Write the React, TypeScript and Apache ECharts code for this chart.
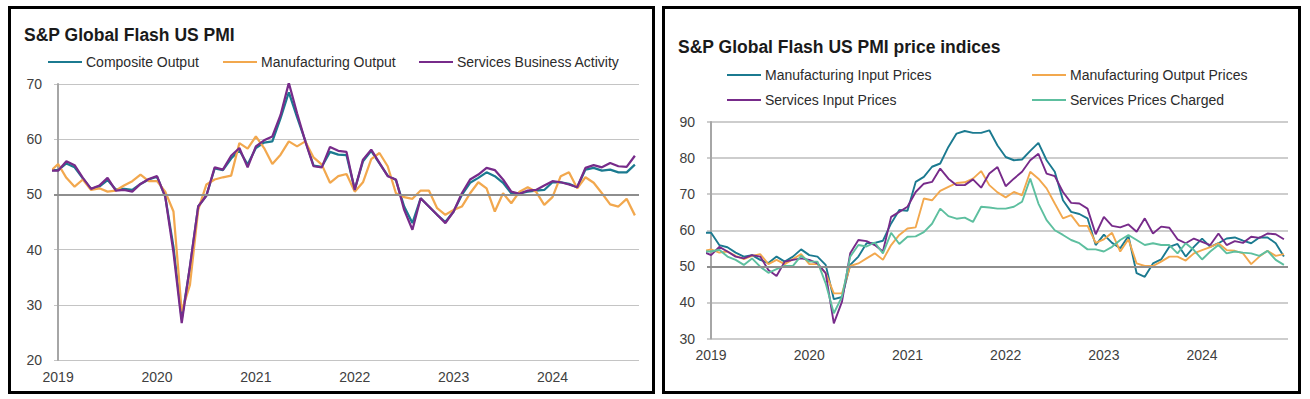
import React, { useEffect, useRef } from "react";
import * as echarts from "echarts";

// Months Dec 2018 (clipped at the axis) .. Nov 2024
const months: string[] = [];
for (let y = 2018; y <= 2024; y++) {
  for (let m = 1; m <= 12; m++) {
    if ((y === 2018 && m < 12) || (y === 2024 && m > 11)) continue;
    months.push(`${y}-${String(m).padStart(2, "0")}`);
  }
}
const yearLabels = ["2019", "2020", "2021", "2022", "2023", "2024"];

// Left panel: S&P Global Flash US PMI
const compositeOutput = [
  54.4,
  54.4, 55.6, 54.9, 52.9, 51.0, 51.4, 52.6, 50.9, 51.0, 50.8, 51.9, 52.7,
  53.2, 49.6, 40.5, 27.4, 36.8, 47.8, 49.8, 54.7, 54.4, 56.5, 58.0, 55.4,
  58.4, 59.4, 59.6, 63.8, 68.5, 64.0, 59.7, 55.2, 55.0, 57.7, 57.2, 57.1,
  50.9, 56.0, 57.9, 55.6, 53.4, 52.6, 47.8, 44.8, 49.3, 47.8, 46.3, 45.0,
  46.9, 49.9, 52.1, 53.0, 54.0, 53.3, 52.1, 50.2, 50.2, 50.5, 50.7, 50.8,
  52.2, 52.2, 51.9, 51.3, 54.5, 54.8, 54.3, 54.5, 54.0, 54.0, 55.4,
];
const manufacturingOutput = [
  54.1,
  55.5, 53.0, 51.4, 52.7, 50.8, 51.1, 50.5, 50.7, 51.6, 52.4, 53.6, 52.4,
  52.4, 50.5, 46.9, 28.8, 33.6, 47.2, 51.8, 52.7, 53.1, 53.4, 59.3, 58.3,
  60.5, 58.4, 55.5, 57.2, 59.6, 58.7, 59.6, 56.7, 55.4, 52.1, 53.3, 53.7,
  50.5, 52.2, 56.4, 57.5, 55.1, 50.2, 49.5, 49.2, 50.7, 50.7, 47.5, 46.3,
  47.2, 47.8, 50.2, 52.2, 51.1, 46.9, 50.2, 48.4, 50.5, 51.3, 50.5, 48.1,
  49.5, 53.3, 54.0, 51.1, 53.1, 52.1, 50.2, 48.2, 47.8, 49.2, 46.2,
];
const servicesBusinessActivity = [
  54.3,
  54.3, 56.0, 55.3, 53.0, 51.0, 51.6, 53.0, 50.7, 50.8, 50.5, 51.9, 52.8,
  53.3, 49.6, 39.5, 26.7, 37.0, 47.8, 49.8, 54.9, 54.5, 57.0, 58.4, 54.9,
  58.7, 59.8, 60.5, 64.4, 70.2, 64.7, 59.6, 55.1, 54.9, 58.6, 57.9, 57.7,
  50.8, 56.3, 58.1, 55.7, 53.3, 52.7, 47.2, 43.6, 49.3, 47.8, 46.3, 44.8,
  46.9, 50.2, 52.7, 53.6, 54.8, 54.4, 52.7, 50.5, 50.1, 50.7, 50.8, 51.6,
  52.4, 52.2, 51.8, 51.3, 54.8, 55.3, 54.9, 55.7, 55.1, 55.0, 57.0,
];

// Right panel: price indices
const manufacturingInputPrices = [
  59.3,
  59.3, 55.9, 55.3, 53.8, 52.7, 53.1, 51.8, 50.9, 52.7, 51.3, 52.7, 54.7,
  53.1, 52.7, 50.4, 40.9, 41.5, 50.4, 52.7, 56.4, 56.5, 57.1, 61.9, 65.6,
  65.4, 73.4, 74.8, 77.6, 78.5, 83.1, 86.8, 87.5, 87.0, 87.0, 87.7, 83.5,
  80.3, 79.4, 79.6, 82.0, 84.2, 79.4, 76.2, 68.3, 65.1, 64.5, 63.3, 55.9,
  58.8, 56.5, 55.0, 58.4, 48.1, 47.1, 50.8, 51.9, 55.4, 56.2, 52.7, 55.4,
  57.7, 55.4, 56.4, 57.7, 58.0, 57.1, 56.4, 58.0, 58.0, 56.4, 52.7,
];
const manufacturingOutputPrices = [
  54.2,
  54.7, 53.8, 54.1, 52.9, 52.0, 52.9, 53.4, 50.6, 51.8, 50.6, 52.0, 53.4,
  50.6, 50.6, 48.1, 42.5, 42.5, 50.1, 50.8, 52.2, 53.6, 51.8, 55.9, 58.7,
  60.5, 60.8, 68.8, 68.3, 70.9, 72.0, 73.1, 73.3, 74.3, 76.4, 72.5, 70.5,
  69.1, 70.6, 69.7, 76.2, 74.3, 71.6, 67.4, 63.3, 64.2, 61.2, 61.2, 56.5,
  57.5, 59.3, 54.1, 57.5, 50.8, 50.1, 50.1, 51.3, 52.7, 52.7, 51.6, 53.6,
  54.5, 55.3, 56.4, 54.5, 54.3, 53.6, 50.6, 52.7, 54.3, 52.9, 53.4,
];
const servicesInputPrices = [
  54.1,
  53.1, 55.4, 54.1, 52.7, 52.2, 53.1, 52.7, 49.0, 47.3, 51.3, 51.8, 52.2,
  51.8, 50.8, 48.1, 34.2, 40.2, 53.6, 57.3, 57.0, 55.9, 54.1, 63.7, 65.1,
  66.5, 70.6, 72.9, 73.4, 77.1, 74.3, 72.5, 72.5, 74.1, 71.8, 75.7, 77.5,
  72.2, 74.3, 76.2, 79.4, 81.2, 75.7, 75.0, 70.6, 67.6, 67.4, 66.0, 58.9,
  63.7, 61.2, 60.8, 61.6, 59.6, 63.3, 59.1, 61.0, 60.7, 57.5, 56.4, 57.7,
  56.8, 55.9, 59.1, 55.9, 57.0, 56.5, 58.2, 57.9, 59.1, 58.9, 57.5,
];
const servicesPricesCharged = [
  54.1,
  54.1, 54.6, 52.7, 51.8, 50.4, 52.2, 49.9, 48.2, 49.2, 50.1, 50.1, 52.9,
  51.3, 51.3, 45.3, 37.0, 41.6, 52.7, 55.9, 55.5, 56.6, 53.6, 59.3, 56.2,
  58.2, 58.3, 59.5, 61.8, 66.0, 63.9, 63.2, 63.5, 62.3, 66.5, 66.3, 66.0,
  66.0, 66.5, 67.9, 74.3, 67.4, 62.8, 60.0, 58.7, 57.3, 56.4, 54.7, 54.7,
  54.1, 55.4, 57.3, 58.7, 57.3, 55.9, 56.4, 55.9, 55.9, 53.6, 56.4, 54.5,
  51.9, 54.1, 55.9, 53.6, 54.1, 53.8, 53.6, 52.9, 54.3, 51.8, 50.4,
];

const FONT = "'Liberation Sans', Arial, sans-serif";
const TEAL = "#1b7a90";
const ORANGE = "#f2a84e";
const PURPLE = "#772b8a";
const MINT = "#5dbf9f";

const toPoints = (vals: number[]) => vals.map((v, k) => [k - 1, v]);
const yearTickValues = yearLabels.map((y) => months.indexOf(`${y}-01`) - 1);

export default function App() {
  const ref = useRef<HTMLDivElement>(null);

  useEffect(() => {
    if (!ref.current) return;
    const chart = echarts.init(ref.current, undefined, { renderer: "svg" });

    const xAxisBase = (gridIndex: number, margin: number) => ({
      type: "value",
      gridIndex,
      min: -0.5,
      max: 70.5,
      axisLine: { show: false },
      axisTick: { show: false },
      splitLine: { show: false },
      axisLabel: {
        customValues: yearTickValues,
        formatter: (v: number) => months[Math.round(v) + 1].slice(0, 4),
        fontSize: 14,
        color: "#404040",
        fontFamily: FONT,
        margin,
      },
    });

    const yAxisBase = (gridIndex: number, min: number, max: number, gridW: number, gridC: string) => ({
      type: "value",
      gridIndex,
      min,
      max,
      interval: 10,
      axisLine: { show: true, lineStyle: { color: "#a6a6a6", width: 2 } },
      axisTick: { show: false },
      splitLine: { show: true, lineStyle: { color: gridC, width: gridW } },
      axisLabel: { fontSize: 14, color: "#404040", fontFamily: FONT, margin: 12 },
    });

    const fiftyLine = (idx: number, width: number) => ({
      type: "line",
      name: `_fifty${idx}`,
      xAxisIndex: idx,
      yAxisIndex: idx,
      data: [],
      z: 1,
      silent: true,
      markLine: {
        silent: true,
        symbol: ["none", "none"],
        label: { show: false },
        lineStyle: { color: "#8e8e8e", width, type: "solid" },
        data: [{ yAxis: 50 }],
      },
    });

    const lineSeries = (name: string, idx: number, vals: number[], color: string, width: number) => ({
      type: "line",
      name,
      xAxisIndex: idx,
      yAxisIndex: idx,
      data: toPoints(vals),
      symbol: "none",
      showSymbol: false,
      clip: true,
      z: 3,
      lineStyle: { color, width },
      itemStyle: { color },
    });

    const legendBase = {
      padding: 0,
      itemWidth: 34,
      itemHeight: 2,
      itemGap: 0,
      icon: "rect",
      selectedMode: false,
      textStyle: { fontSize: 14, color: "#2b2b2b", fontFamily: FONT, padding: [0, 0, 0, -1] },
    };

    chart.setOption({
      animation: false,
      backgroundColor: "#ffffff",
      title: [
        {
          text: "S&P Global Flash US PMI",
          left: 24,
          top: 26,
          padding: 0,
          textStyle: { fontSize: 17.5, fontWeight: "bold", color: "#1a1a1a", fontFamily: FONT },
        },
        {
          text: "S&P Global Flash US PMI price indices",
          left: 678,
          top: 38,
          padding: 0,
          textStyle: { fontSize: 17.5, fontWeight: "bold", color: "#1a1a1a", fontFamily: FONT },
        },
      ],
      legend: [
        { ...legendBase, data: ["Composite Output"], left: 48, top: 55 },
        { ...legendBase, data: ["Manufacturing Output"], left: 223, top: 55 },
        { ...legendBase, data: ["Services Business Activity"], left: 419, top: 55 },
        { ...legendBase, data: ["Manufacturing Input Prices"], left: 727, top: 68 },
        { ...legendBase, data: ["Manufacturing Output Prices"], left: 1032, top: 68 },
        { ...legendBase, data: ["Services Input Prices"], left: 727, top: 93 },
        { ...legendBase, data: ["Services Prices Charged"], left: 1032, top: 93 },
      ],
      grid: [
        { left: 54, top: 84, width: 585, height: 276 },
        { left: 707, top: 122, width: 581, height: 216.5 },
      ],
      xAxis: [xAxisBase(0, 10), xAxisBase(1, 9)],
      yAxis: [
        yAxisBase(0, 20, 70, 1, "#c4c4c4"),
        yAxisBase(1, 30, 90, 1.5, "#bcbcbc"),
      ],
      graphic: [
        {
          type: "rect",
          silent: true,
          shape: { x: 9.5, y: 7.5, width: 644, height: 385 },
          style: { fill: "none", stroke: "#000000", lineWidth: 3 },
        },
        {
          type: "rect",
          silent: true,
          shape: { x: 663.5, y: 7.5, width: 636, height: 385 },
          style: { fill: "none", stroke: "#000000", lineWidth: 3 },
        },
      ],
      series: [
        fiftyLine(0, 2),
        fiftyLine(1, 2),
        lineSeries("Composite Output", 0, compositeOutput, TEAL, 2.25),
        lineSeries("Manufacturing Output", 0, manufacturingOutput, ORANGE, 2.25),
        lineSeries("Services Business Activity", 0, servicesBusinessActivity, PURPLE, 2.25),
        lineSeries("Manufacturing Input Prices", 1, manufacturingInputPrices, TEAL, 1.9),
        lineSeries("Manufacturing Output Prices", 1, manufacturingOutputPrices, ORANGE, 1.9),
        lineSeries("Services Input Prices", 1, servicesInputPrices, PURPLE, 1.9),
        lineSeries("Services Prices Charged", 1, servicesPricesCharged, MINT, 1.9),
      ],
    });

    return () => chart.dispose();
  }, []);

  return (
    <div
      ref={ref}
      style={{ position: "fixed", left: 0, top: 0, width: 1310, height: 399, background: "#ffffff" }}
    />
  );
}
